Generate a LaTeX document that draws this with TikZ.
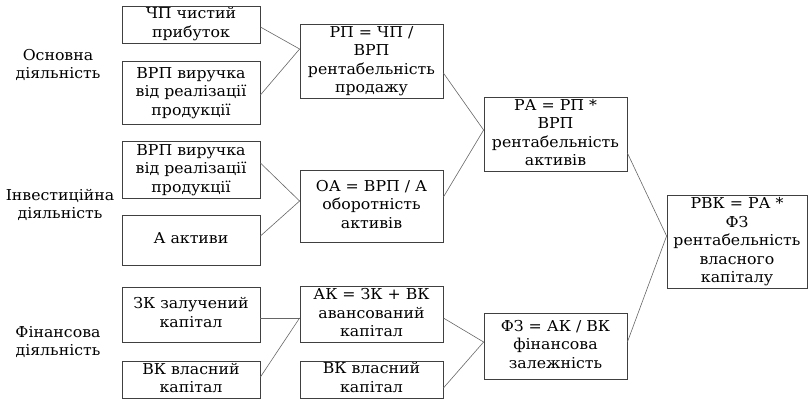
\documentclass[tikz,border=0pt]{standalone}
\usepackage{fontspec}
\usepackage{graphicx}
\setmainfont{DejaVu Serif}
\usetikzlibrary{positioning,calc}
% text in the scheme is set a little wider than usual
\newcommand{\wide}[1]{\scalebox{1.05}[1]{\begin{tabular}{@{}c@{}}#1\end{tabular}}}

\begin{document}
\begin{tikzpicture}[
  x=1pt, y=-1pt,
  every node/.style={align=center, inner sep=0pt, font=\fontsize{15}{18.5}\selectfont},
  box/.style={draw=black!75, line width=0.8pt, minimum width=138pt},
  midbox/.style={box, minimum width=143pt},
  link/.style={draw=black!60, line width=0.6pt},
]
  \useasboundingbox (0,0) rectangle (808,400);

  % Side labels
  \node (osn) at (58,66)  {\wide{Основна\\діяльність}};
  \node (inv) at (60,206) {\wide{Інвестиційна\\діяльність}};
  \node (fin) at (58,343) {\wide{Фінансова\\діяльність}};

  % First column: source indicators
  \node[box, minimum height=37pt] (chp)  at (191,24.5) {\wide{ЧП чистий\\прибуток}};
  \node[box, minimum height=63pt] (vrpa) at (191,93)   {\wide{ВРП виручка\\від реалізації\\продукції}};
  \node[box, minimum height=57pt] (vrpb) at (191,170)  {\wide{ВРП виручка\\від реалізації\\продукції}};
  \node[box, minimum height=50pt] (akt)  at (191,240)  {\wide{А активи}};
  \node[box, minimum height=55pt] (zk)   at (191,314.5) {\wide{ЗК залучений\\капітал}};
  \node[box, minimum height=36pt] (vka)  at (191,380)  {\wide{ВК власний\\капітал}};

  % Second column
  \node[midbox, minimum height=73pt] (rp)  at (371.5,61.5)  {\wide{РП = ЧП /\\ВРП\\рентабельність\\продажу}};
  \node[midbox, minimum height=72pt] (oa)  at (371.5,206)   {\wide{ОА = ВРП / А\\оборотність\\активів}};
  \node[midbox, minimum height=55pt] (ak)  at (371.5,314.5) {\wide{АК = ЗК + ВК\\авансований\\капітал}};
  \node[midbox, minimum height=37pt] (vkb) at (371.5,379.5) {\wide{ВК власний\\капітал}};

  % Third column
  \node[midbox, minimum height=72pt] (ra) at (555.5,134.5) {\wide{РА = РП *\\ВРП\\рентабельність\\активів}};
  \node[midbox, minimum height=66pt] (fz) at (555.5,346)   {\wide{ФЗ = АК / ВК\\фінансова\\залежність}};

  % Result
  \node[box, minimum width=140pt, minimum height=90pt] (rvk) at (737,242)
    {\wide{РВК = РА *\\ФЗ\\рентабельність\\власного\\капіталу}};

  % Links into the second column
  \draw[link] ([yshift=-2.5pt]chp.east)  -- ([yshift=12.5pt]rp.west);
  \draw[link] ([yshift=-2pt]vrpa.east)   -- ([yshift=12.5pt]rp.west);
  \draw[link] ([yshift=7pt]vrpb.east)    -- ([yshift=5pt]oa.west);
  \draw[link] ([yshift=4pt]akt.east)     -- ([yshift=5pt]oa.west);
  \draw[link] ([yshift=-3.5pt]zk.east)   -- ([yshift=-3.5pt]ak.west);
  \draw[link] ([yshift=3pt]vka.east)     -- ([yshift=-3.5pt]ak.west);

  % Links into the third column
  \draw[link] ([yshift=-11.5pt]rp.east)  -- ([yshift=4.5pt]ra.west);
  \draw[link] ([yshift=9pt]oa.east)      -- ([yshift=4.5pt]ra.west);
  \draw[link] ([yshift=-3.5pt]ak.east)   -- ([yshift=4pt]fz.west);
  \draw[link] ([yshift=-8.5pt]vkb.east)  -- ([yshift=4pt]fz.west);

  % Links into the result
  \draw[link] ([yshift=-18.5pt]ra.east)  -- ([yshift=6pt]rvk.west);
  \draw[link] ([yshift=4pt]fz.east)      -- ([yshift=6pt]rvk.west);
\end{tikzpicture}
\end{document}
